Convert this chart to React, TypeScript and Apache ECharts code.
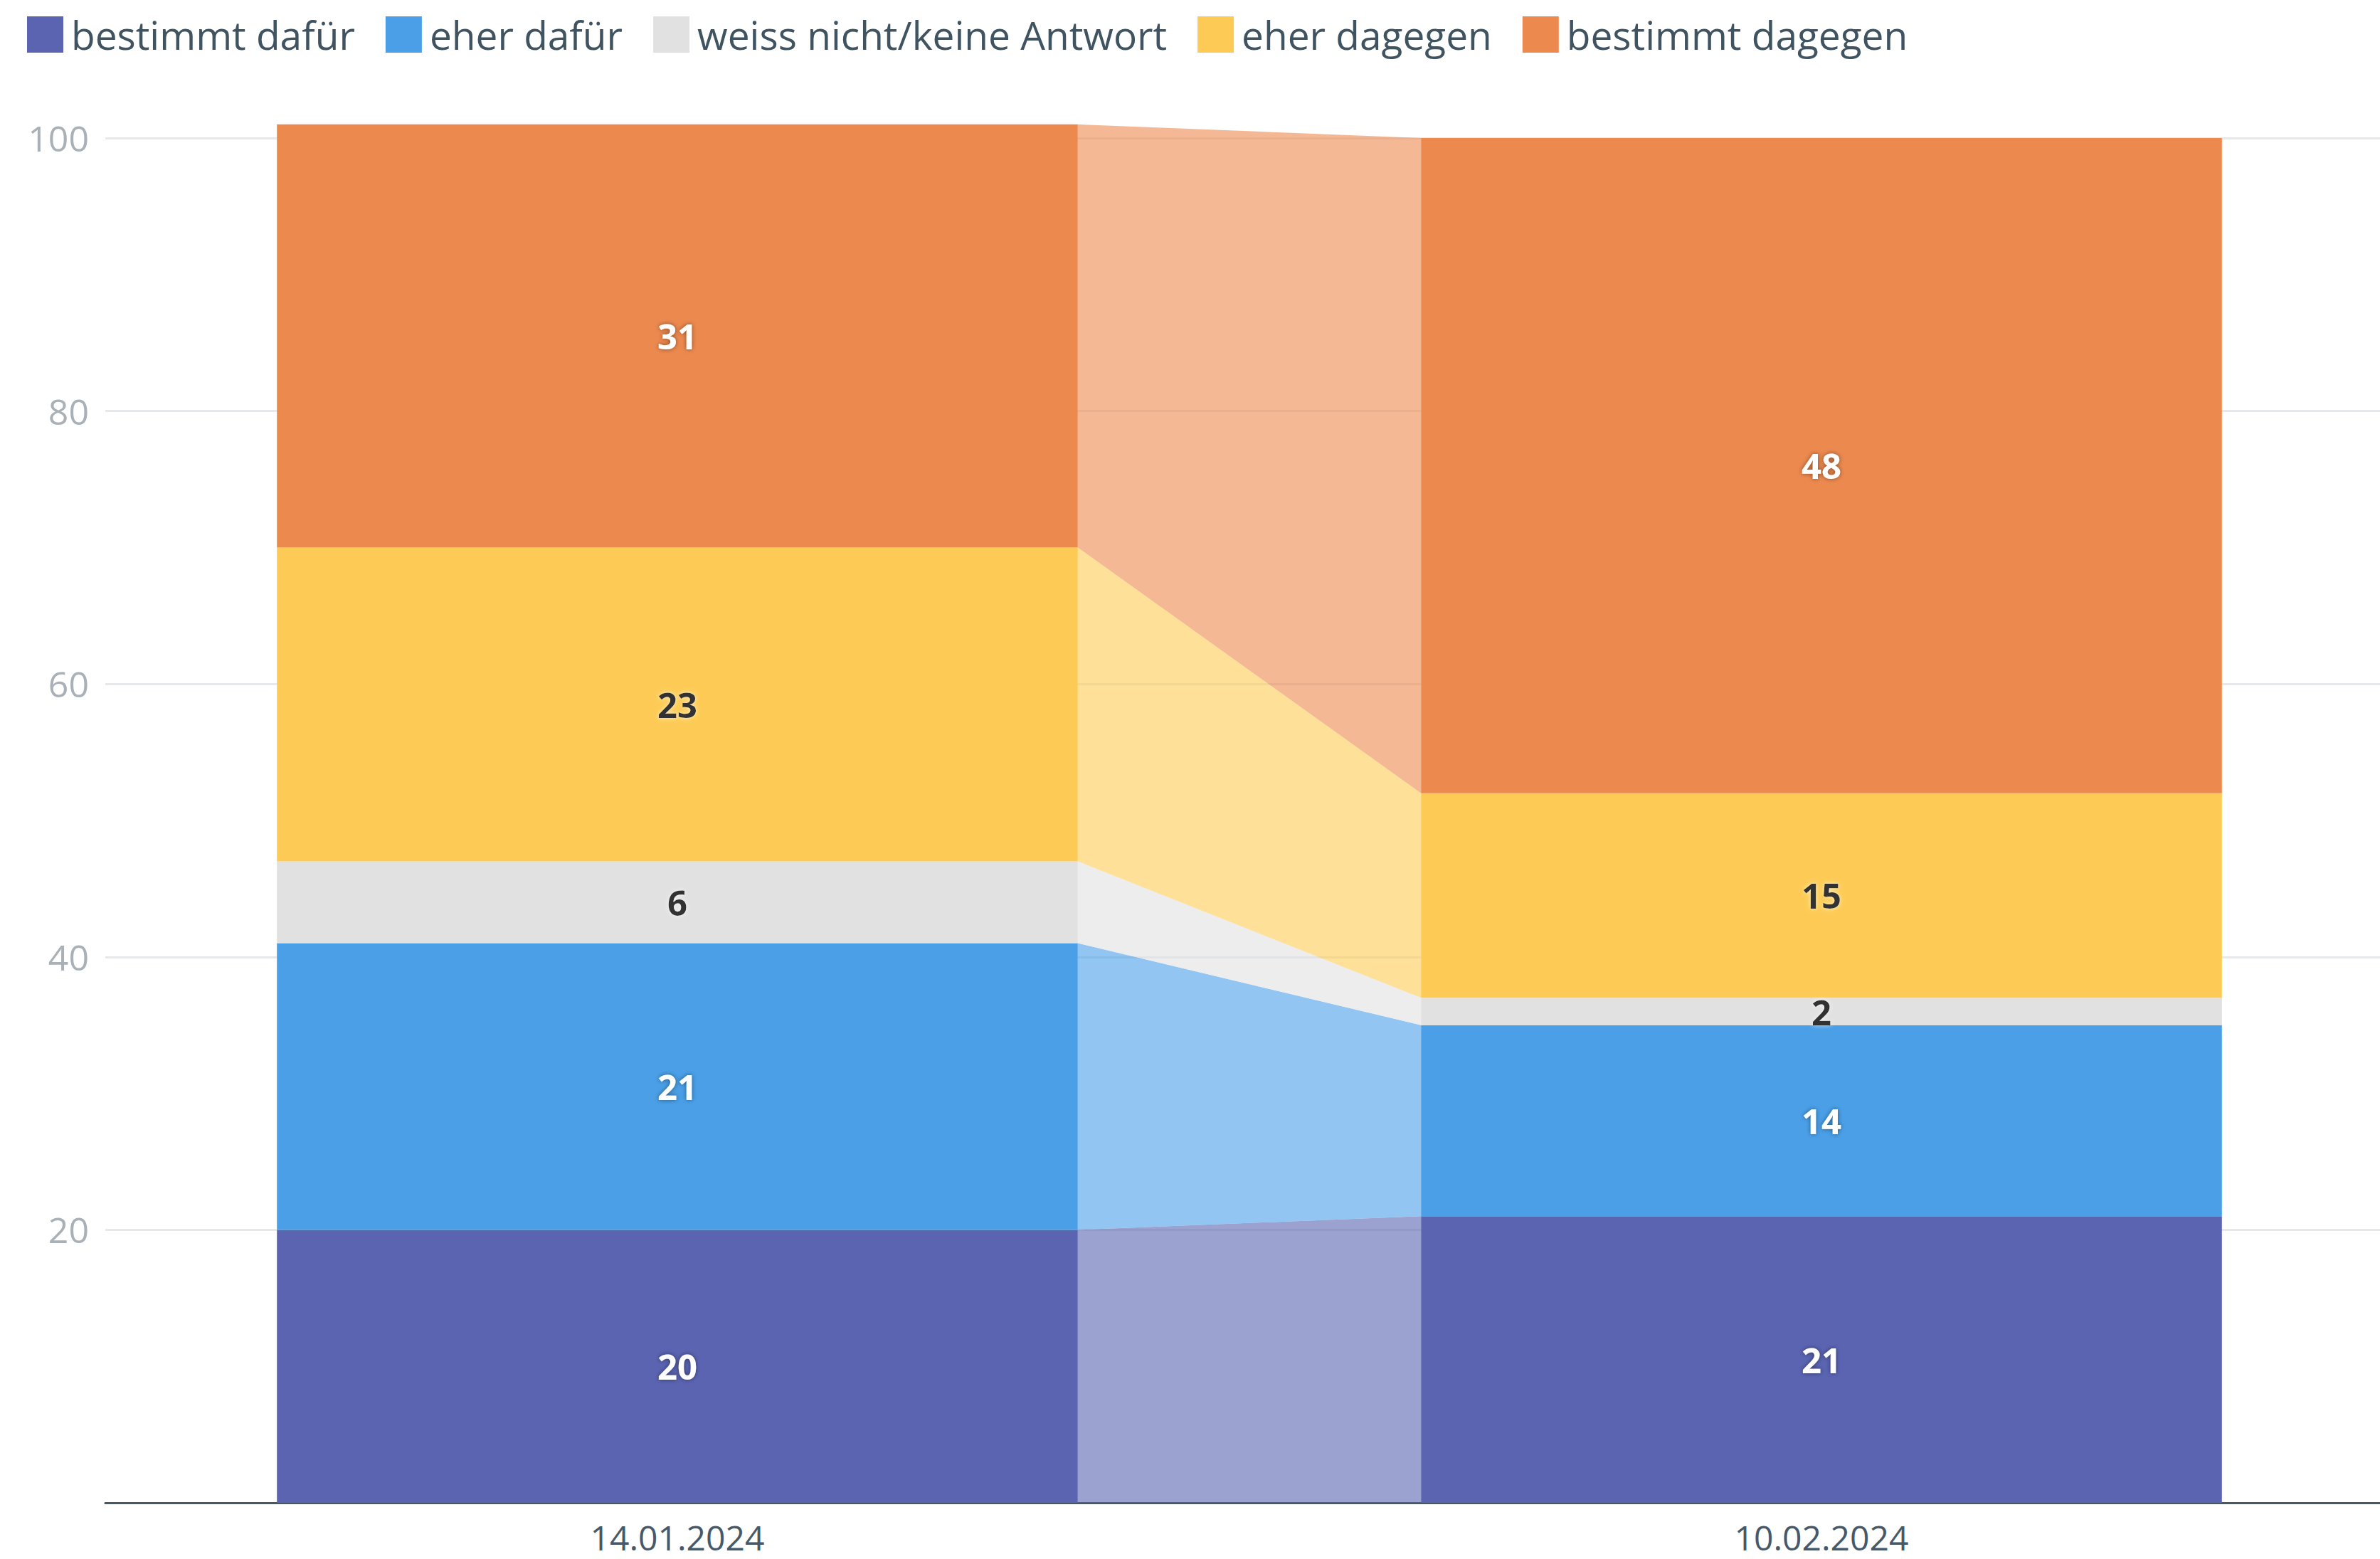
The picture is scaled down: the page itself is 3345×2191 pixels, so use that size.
import React, { useEffect, useRef } from 'react';
import * as echarts from 'echarts';

const categories = ['14.01.2024', '10.02.2024'];
const seriesNames = ['bestimmt dafür', 'eher dafür', 'weiss nicht/keine Antwort', 'eher dagegen', 'bestimmt dagegen'];
const bestimmtDafuer = [20, 21];
const eherDafuer = [21, 14];
const weissNicht = [6, 2];
const eherDagegen = [23, 15];
const bestimmtDagegen = [31, 48];
const colors = ['#5a64b1', '#4a9fe7', '#e1e1e1', '#fdcb55', '#ec894f'];
const labelColors = ['#ffffff', '#ffffff', '#333333', '#333333', '#ffffff'];
const yMin = 0;
const yMax = 100;
const yInterval = 20;

const FONT = '"Open Sans", "Noto Sans", sans-serif';

export default function App() {
  const ref = useRef<HTMLDivElement>(null);
  useEffect(() => {
    if (!ref.current) return;
    const chart = echarts.init(ref.current, undefined, { renderer: 'svg' });
    const values = [bestimmtDafuer, eherDafuer, weissNicht, eherDagegen, bestimmtDagegen];
    const BAR_FRAC = 0.7;

    const barSeries = values.map((vals, i) => ({
      name: seriesNames[i],
      type: 'bar',
      stack: 'total',
      barWidth: '70%',
      clip: false,
      z: 3,
      data: vals,
      itemStyle: { color: colors[i] },
      label: {
        show: true,
        position: 'inside',
        formatter: '{c}',
        fontFamily: FONT,
        fontWeight: 'bold',
        fontSize: 49,
        color: labelColors[i],
        textShadowColor: labelColors[i] === '#ffffff' ? 'rgba(0,0,0,0.45)' : 'rgba(255,255,255,0.7)',
        textShadowBlur: 6,
      },
      emphasis: { disabled: true },
    }));

    const connectorSeries = values.map((vals, i) => {
      const b0 = values.slice(0, i).reduce((s, v) => s + v[0], 0);
      const b1 = values.slice(0, i).reduce((s, v) => s + v[1], 0);
      const t0 = b0 + vals[0];
      const t1 = b1 + vals[1];
      return {
        name: 'conn-' + seriesNames[i],
        type: 'custom',
        z: 1,
        silent: true,
        clip: false,
        encode: { x: 0, y: [1, 2, 3, 4] },
        data: [[0, b0, t0, b1, t1]],
        renderItem: (params: any, api: any) => {
          const lb = api.coord([0, api.value(1)]);
          const lt = api.coord([0, api.value(2)]);
          const rb = api.coord([1, api.value(3)]);
          const rt = api.coord([1, api.value(4)]);
          const band = api.size([1, 0])[0];
          const hw = (band * BAR_FRAC) / 2;
          return {
            type: 'polygon',
            shape: {
              points: [
                [lb[0] + hw, lb[1]],
                [lt[0] + hw, lt[1]],
                [rt[0] - hw, rt[1]],
                [rb[0] - hw, rb[1]],
              ],
            },
            style: { fill: colors[i], opacity: 0.6 },
          };
        },
      };
    });

    chart.setOption({
      animation: false,
      backgroundColor: '#ffffff',
      textStyle: { fontFamily: FONT },
      legend: {
        data: seriesNames,
        left: 38,
        top: 21,
        padding: 0,
        itemWidth: 51,
        itemHeight: 51,
        itemGap: 43,
        icon: 'rect',
        selectedMode: false,
        textStyle: { fontSize: 55, color: '#3f5361', fontFamily: FONT, padding: [0, 0, 0, 6] },
      },
      grid: { left: 148, right: 0, top: 194, bottom: 79, containLabel: false },
      xAxis: {
        type: 'category',
        data: categories,
        boundaryGap: true,
        axisLine: { show: true, lineStyle: { color: '#46576a', width: 3 } },
        axisTick: { show: false },
        axisLabel: { fontSize: 48, color: '#45596a', margin: 24, fontFamily: FONT },
        splitLine: { show: false },
      },
      yAxis: {
        type: 'value',
        min: yMin,
        max: yMax,
        interval: yInterval,
        axisLine: { show: false },
        axisTick: { show: false },
        axisLabel: { fontSize: 50, color: '#a9b0b6', margin: 23, showMinLabel: false, fontFamily: FONT },
        splitLine: { show: true, lineStyle: { color: '#e6e8ea', width: 3 } },
      },
      series: [...connectorSeries, ...barSeries],
    });
    return () => chart.dispose();
  }, []);
  return (
    <div
      ref={ref}
      style={{ position: 'fixed', left: 0, top: 0, width: 3364, height: 2191, background: '#fff' }}
    />
  );
}
